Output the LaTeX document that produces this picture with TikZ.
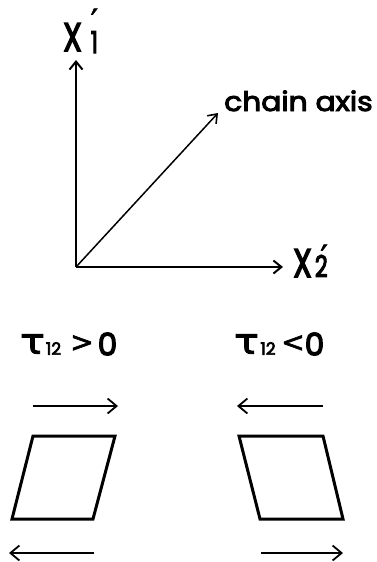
\documentclass[tikz,border=0pt]{standalone}
\usepackage{fontspec}
\setmainfont{Poppins}[FakeBold=3.5]
\newfontfamily\heavy{Poppins}[FakeBold=4]
\newfontfamily\dejavu{DejaVu Sans}[FakeBold=2]
\usetikzlibrary{arrows.meta}
\newcommand{\bigX}{\scalebox{0.75}[1]{\heavy\fontsize{40}{40}\selectfont X}}
\newcommand{\subd}[1]{\scalebox{0.75}[1]{\heavy\fontsize{30}{30}\selectfont #1}}
\newcommand{\primeup}[1]{\llap{\raisebox{#1}{\dejavu\fontsize{32}{32}\selectfont ′}}}
\begin{document}
\begin{tikzpicture}[x=1pt,y=-1pt,
  axis/.style={line width=2pt,-{Straight Barb[length=8pt,width=13pt,line width=2pt]}},
  chainarrow/.style={line width=1.5pt,-{Straight Barb[length=8pt,width=12pt,line width=1.6pt]}},
  shear/.style={line width=1.6pt,-{Straight Barb[length=9pt,width=15pt,line width=1.8pt]}},
  cell/.style={line width=3pt,line join=miter},
  xlabel/.style={inner sep=0pt,anchor=base west},
  lbl/.style={inner sep=0pt,font=\fontsize{27}{27}\selectfont},
  tau/.style={inner sep=0pt,font=\dejavu\fontsize{36}{36}\selectfont,xscale=1.15},
  tsub/.style={inner sep=0pt,font=\heavy\fontsize{17}{17}\selectfont},
  rel/.style={inner sep=0pt,font=\dejavu\fontsize{28}{28}\selectfont},
  zero/.style={inner sep=0pt,font=\heavy\fontsize{31}{31}\selectfont}]
\useasboundingbox (0,0) rectangle (377,562);
% axes
\coordinate (O) at (76,267);
\coordinate (ytip) at (76,60);
\coordinate (xtip) at (283,267);
\coordinate (ctip) at (218,113);
\draw[axis] (O) -- (ytip);
\draw[axis] (O) -- (xtip);
\draw[chainarrow] (O) -- (ctip);
% labels
\node[xlabel] (X1) at (63,51) {\bigX\hspace{9pt}\raisebox{-2pt}{\subd{1}}\primeup{19pt}};
\node[xlabel] (X2) at (293,277) {\bigX\hspace{3pt}\subd{2}\primeup{9pt}};
\node[lbl,anchor=base west,xscale=1.1] (chain) at (224,111) {chain axis};
% tau labels
\node[tau] (t1) at (32.5,344) {τ};
\node[tsub] (t1s) at (53.5,348.5) {12};
\node[rel] (t1r) at (82,343.5) {>};
\node[zero] (t1z) at (107.5,344) {0};
\node[tau] (t2) at (246.5,344) {τ};
\node[tsub] (t2s) at (268,348.5) {12};
\node[rel] (t2r) at (293,343.5) {<};
\node[zero] (t2z) at (314.5,344) {0};
% shear arrows
\coordinate (a1s) at (33,406); \coordinate (a1e) at (118,406);
\coordinate (a2s) at (94,553); \coordinate (a2e) at (9,553);
\coordinate (a3s) at (323,406); \coordinate (a3e) at (237,406);
\coordinate (a4s) at (261,553); \coordinate (a4e) at (343,553);
\draw[shear] (a1s) -- (a1e);
\draw[shear] (a2s) -- (a2e);
\draw[shear] (a3s) -- (a3e);
\draw[shear] (a4s) -- (a4e);
% cells
\coordinate (p1) at (33,436); \coordinate (p2) at (115,436);
\coordinate (p3) at (93,519); \coordinate (p4) at (12,519);
\draw[cell] (p1) -- (p2) -- (p3) -- (p4) -- cycle;
\coordinate (q1) at (239,436); \coordinate (q2) at (323,436);
\coordinate (q3) at (343,519); \coordinate (q4) at (260,519);
\draw[cell] (q1) -- (q2) -- (q3) -- (q4) -- cycle;
\end{tikzpicture}
\end{document}
